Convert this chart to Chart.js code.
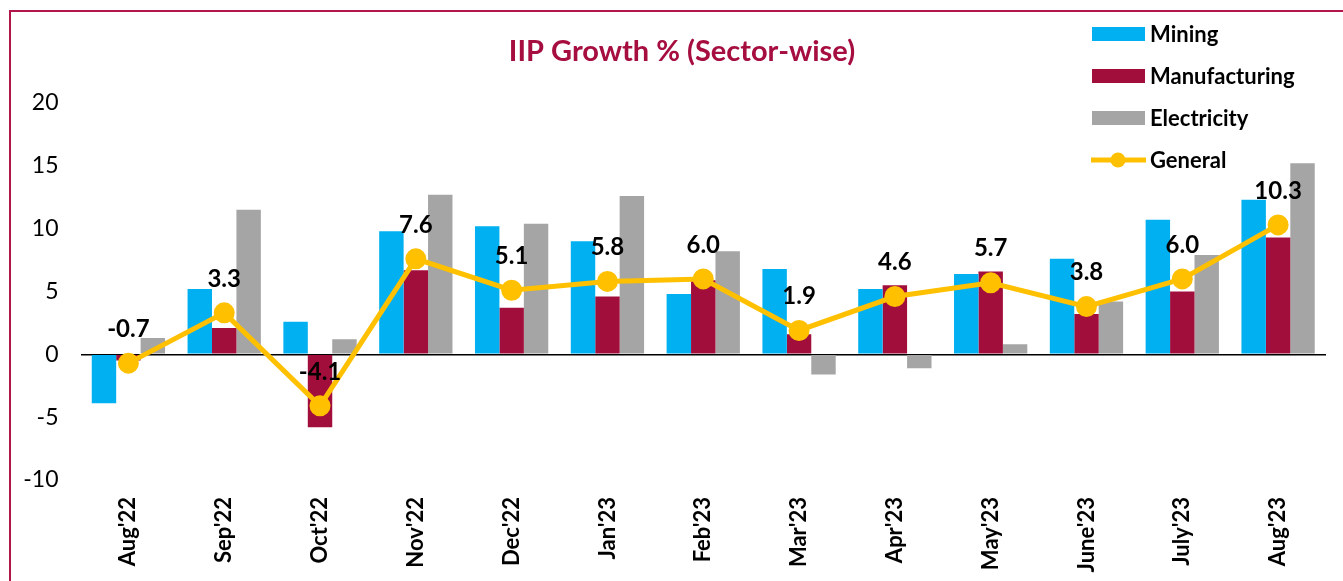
<!DOCTYPE html>
<html>
<head>
<meta charset="utf-8">
<title>IIP Growth % (Sector-wise)</title>
<script src="https://cdn.jsdelivr.net/npm/chart.js@4"></script>
<style>
    body { margin: 0; background: #fff; overflow: hidden; }
    #wrap { position: relative; width: 1343px; height: 581px; }
    #frame {
        position: absolute; left: 9px; top: 10px; width: 1400px; height: 600px;
        border-left: 2px solid #B3174A; border-top: 2px solid #B3174A;
        pointer-events: none;
    }
    canvas { position: absolute; left: 0; top: 0; }
</style>
</head>
<body>
<div id="wrap">
    <canvas id="iipChart" width="1343" height="581"></canvas>
    <div id="frame"></div>
</div>
<script>
// Datos del gráfico
const months = ["Aug'22", "Sep'22", "Oct'22", "Nov'22", "Dec'22", "Jan'23", "Feb'23",
                "Mar'23", "Apr'23", "May'23", "June'23", "July'23", "Aug'23"];
const mining = [-3.9, 5.2, 2.6, 9.8, 10.2, 9.0, 4.8, 6.8, 5.2, 6.4, 7.6, 10.7, 12.3];
const manufacturing = [-0.5, 2.1, -5.8, 6.7, 3.7, 4.6, 5.9, 1.6, 5.5, 6.6, 3.2, 5.0, 9.3];
const electricity = [1.3, 11.5, 1.2, 12.7, 10.4, 12.6, 8.2, -1.6, -1.1, 0.8, 4.2, 7.9, 15.2];
const general = [-0.7, 3.3, -4.1, 7.6, 5.1, 5.8, 6.0, 1.9, 4.6, 5.7, 3.8, 6.0, 10.3];
const yTicks = [-10, -5, 0, 5, 10, 15, 20];

const FONT = "Lato, 'Open Sans', sans-serif";

// Plugin para título, leyenda y etiquetas de la serie General
const decorPlugin = {
    id: 'decor',
    afterDatasetsDraw(chart) {
        const ctx = chart.ctx;
        const meta = chart.getDatasetMeta(3);
        ctx.save();
        ctx.fillStyle = '#000';
        ctx.font = 'bold 24px ' + FONT;
        ctx.textAlign = 'center';
        ctx.textBaseline = 'middle';
        meta.data.forEach(function (pt, i) {
            ctx.fillText(general[i].toFixed(1), pt.x, pt.y - 34);
        });
        ctx.restore();
    },
    afterDraw(chart) {
        const ctx = chart.ctx;
        ctx.save();
        // Título
        ctx.fillStyle = '#A50E3E';
        ctx.font = 'bold 29px ' + FONT;
        ctx.textAlign = 'center';
        ctx.textBaseline = 'alphabetic';
        ctx.fillText('IIP Growth % (Sector-wise)', 682, 61);

        // Leyenda
        const rows = [34, 76, 118, 160];
        ctx.font = 'bold 22px ' + FONT;
        ctx.textAlign = 'left';
        ctx.textBaseline = 'middle';
        chart.data.datasets.forEach(function (ds, i) {
            const y = rows[i];
            if (ds.type === 'line') {
                ctx.strokeStyle = ds.borderColor;
                ctx.lineWidth = 5;
                ctx.beginPath();
                ctx.moveTo(1091, y);
                ctx.lineTo(1146, y);
                ctx.stroke();
                ctx.fillStyle = ds.pointBackgroundColor;
                ctx.beginPath();
                ctx.arc(1118, y, 7.5, 0, Math.PI * 2);
                ctx.fill();
            } else {
                ctx.fillStyle = ds.backgroundColor;
                ctx.fillRect(1092, y - 7, 53, 14);
            }
            ctx.fillStyle = '#000';
            ctx.fillText(ds.label, 1150, y + 1);
        });
        ctx.restore();
    }
};

document.addEventListener("DOMContentLoaded", function () {
    const ctx = document.getElementById('iipChart').getContext('2d');
    new Chart(ctx, {
        data: {
            labels: months,
            datasets: [{
                type: 'bar',
                label: 'Mining',
                data: mining,
                backgroundColor: '#00B0F0',
                order: 1
            }, {
                type: 'bar',
                label: 'Manufacturing',
                data: manufacturing,
                backgroundColor: '#A20E3C',
                order: 1
            }, {
                type: 'bar',
                label: 'Electricity',
                data: electricity,
                backgroundColor: '#A5A5A5',
                order: 1
            }, {
                type: 'line',
                label: 'General',
                data: general,
                borderColor: '#FFC000',
                backgroundColor: '#FFC000',
                pointBackgroundColor: '#FFC000',
                pointBorderColor: '#FFC000',
                pointRadius: 8,
                borderWidth: 5,
                tension: 0,
                order: 0
            }]
        },
        options: {
            responsive: false,
            animation: false,
            layout: { padding: { top: 103, right: 17, left: 0, bottom: 0 } },
            datasets: {
                bar: { barPercentage: 1, categoryPercentage: 0.765 }
            },
            plugins: {
                legend: { display: false },
                tooltip: { enabled: false }
            },
            scales: {
                x: {
                    grid: { display: false, drawTicks: false },
                    border: { display: false },
                    ticks: {
                        autoSkip: false,
                        maxRotation: 90,
                        minRotation: 90,
                        padding: 17,
                        color: '#000',
                        font: { family: FONT, size: 22, weight: 'bold' }
                    },
                    afterFit: function (scale) { scale.height = 101; }
                },
                y: {
                    min: -10,
                    max: 20,
                    afterBuildTicks: function (scale) {
                        scale.ticks = yTicks.map(function (v) { return { value: v }; });
                    },
                    grid: {
                        drawTicks: false,
                        lineWidth: 1.5,
                        color: function (c) {
                            return c.tick && c.tick.value === 0 ? '#000' : 'rgba(0,0,0,0)';
                        }
                    },
                    border: { display: false },
                    ticks: {
                        padding: 22,
                        color: '#000',
                        font: { family: FONT, size: 23 }
                    },
                    afterFit: function (scale) { scale.width = 80.5; }
                }
            }
        },
        plugins: [decorPlugin]
    });
});
</script>
</body>
</html>
